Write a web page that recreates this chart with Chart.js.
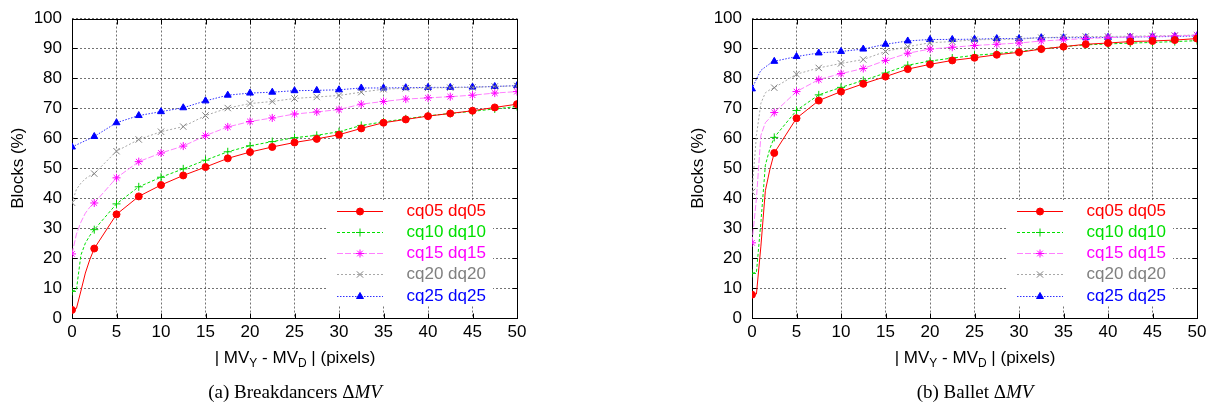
<!DOCTYPE html>
<html>
<head>
<meta charset="utf-8">
<script src="https://cdn.jsdelivr.net/npm/chart.js@4.4.1/dist/chart.umd.min.js"></script>
<style>
  body { margin: 0; background: #fff; width: 1219px; height: 415px; position: relative; overflow: hidden; }
  canvas { position: absolute; top: 0; }
  #bd { left: 0; }
  #bl { left: 680px; }
  .xt { position: absolute; font: 17px "Liberation Sans", Arial, sans-serif; white-space: nowrap; transform: translateX(-50%); }
  .xt sub { font-size: 12px; vertical-align: -4px; line-height: 0; }
  .cap { position: absolute; font: 19px "Liberation Serif", "Times New Roman", serif; white-space: nowrap; transform: translateX(-50%); }
</style>
</head>
<body>
<canvas id="bd" width="540" height="370"></canvas>
<canvas id="bl" width="539" height="370"></canvas>
<div class="xt" style="left:295px; top:348px">| MV<sub>Y</sub> - MV<sub>D</sub> | (pixels)</div>
<div class="xt" style="left:975px; top:348px">| MV<sub>Y</sub> - MV<sub>D</sub> | (pixels)</div>
<div class="cap" style="left:295px; top:381px">(a) Breakdancers Δ<i>MV</i></div>
<div class="cap" style="left:975px; top:381px">(b) Ballet Δ<i>MV</i></div>
<script>
// |MV_Y - MV_D| in pixels (markers only every 2.5)
const mvDiff = [0, 0.5, 1, 1.5, 2, 2.5, 5, 7.5, 10, 12.5, 15, 17.5, 20, 22.5, 25, 27.5, 30, 32.5, 35, 37.5, 40, 42.5, 45, 47.5, 50];
const seriesNames = ['cq05 dq05', 'cq10 dq10', 'cq15 dq15', 'cq20 dq20', 'cq25 dq25'];

// Breakdancers, blocks (%)
const bdCq05 = [2.7, 3.2, 9, 15, 19.5, 23.2, 34.6, 40.6, 44.4, 47.6, 50.4, 53.3, 55.4, 57.1, 58.6, 59.8, 61.2, 63.3, 65.2, 66.3, 67.4, 68.3, 69.2, 70.3, 71.4];
const bdCq10 = [8.9, 9.5, 21, 25, 27.5, 29.5, 38.1, 43.8, 47.0, 49.8, 52.7, 55.5, 57.5, 58.9, 60.2, 61.0, 62.2, 64.3, 65.5, 66.5, 67.5, 68.3, 69.0, 69.8, 70.6];
const bdCq15 = [21.4, 28, 32, 35, 37, 38.4, 46.8, 52.2, 55.1, 57.4, 60.9, 63.8, 65.6, 66.8, 68.1, 68.8, 69.6, 71.4, 72.3, 73.1, 73.5, 73.9, 74.4, 75.1, 75.6];
const bdCq20 = [38.5, 43, 45, 46.5, 47.5, 48.2, 55.7, 59.6, 62.2, 63.9, 67.6, 70.1, 71.6, 72.3, 73.3, 73.8, 74.3, 75.4, 76.4, 76.7, 76.8, 76.9, 77.0, 77.3, 77.5];
const bdCq25 = [57.1, null, null, null, null, 60.6, 65.2, 67.6, 68.9, 70.2, 72.5, 74.4, 75.1, 75.4, 75.9, 76.0, 76.2, 76.8, 76.8, 76.9, 77.0, 77.0, 77.1, 77.3, 77.6];

// Ballet, blocks (%)
const blCq05 = [7.8, 8, 24, 42.5, 49.5, 55.1, 66.7, 72.6, 75.6, 78.2, 80.6, 83.1, 84.7, 86.0, 86.9, 87.9, 88.7, 89.8, 90.6, 91.4, 91.8, 92.3, 92.5, 92.8, 93.3];
const blCq10 = [14.9, 15.3, 32, 51, 56.5, 60.3, 69.3, 74.5, 77.0, 79.3, 81.8, 84.4, 85.8, 86.8, 87.7, 88.3, 89.0, 89.8, 90.6, 91.2, 91.5, 91.8, 92.0, 92.3, 92.6];
const blCq15 = [25.1, 40, 61, 65.2, 66.8, 68.6, 75.6, 79.6, 81.6, 83.3, 86.0, 88.4, 89.8, 90.4, 91.0, 91.4, 91.8, 92.5, 92.9, 93.3, 93.6, 93.8, 94.0, 94.2, 94.4];
const blCq20 = [42.1, 61, 71.7, 75.2, 76.2, 76.9, 81.4, 83.5, 85.0, 86.3, 89.0, 90.6, 91.9, 92.3, 92.9, 93.0, 93.1, 93.6, 93.8, 94.0, 94.0, 94.1, 94.2, 94.3, 94.5];
const blCq25 = [76.5, 79.8, 82.7, 83.8, 84.9, 85.7, 87.3, 88.5, 89.0, 89.8, 91.4, 92.5, 93.0, 93.0, 93.1, 93.3, 93.3, 93.6, 93.6, 93.6, 93.7, 93.8, 93.9, 94.0, 94.2];

const font = { family: '"Liberation Sans", Arial, sans-serif', size: 17 };

const looks = [
  { line: '#ff0000', mark: '#ff0000', text: '#ff0000', dash: [], style: 'circle', r: 3.5 },
  { line: '#00e000', mark: '#00d000', text: '#00e000', dash: [3, 2], style: 'cross', r: 4 },
  { line: '#ff80ff', mark: '#ff00ff', text: '#ff00ff', dash: [6, 2], style: 'star', r: 4 },
  { line: '#a8a8a8', mark: '#808080', text: '#808080', dash: [2, 2], style: 'crossRot', r: 4.5 },
  { line: '#3030ff', mark: '#0000ff', text: '#0000ff', dash: [1.5, 1.5], style: 'triangle', r: 4 }
];

// border + inward tick marks, like gnuplot
const framePlugin = {
  id: 'frame',
  beforeDatasetsDraw(chart) {
    const { ctx, chartArea: a, scales } = chart;
    const l = Math.round(a.left) + 0.5, r = Math.round(a.right) + 0.5;
    const t = Math.round(a.top) + 0.5, b = Math.round(a.bottom) + 0.5;
    ctx.save();
    ctx.strokeStyle = '#000';
    ctx.lineWidth = 1;
    ctx.beginPath();
    scales.x.ticks.forEach(tk => {
      const px = Math.round(scales.x.getPixelForValue(tk.value)) + 0.5;
      ctx.moveTo(px, b); ctx.lineTo(px, b - 5);
      ctx.moveTo(px, t); ctx.lineTo(px, t + 5);
    });
    scales.y.ticks.forEach(tk => {
      const py = Math.round(scales.y.getPixelForValue(tk.value)) + 0.5;
      ctx.moveTo(l, py); ctx.lineTo(l + 5, py);
      ctx.moveTo(r, py); ctx.lineTo(r - 5, py);
    });
    ctx.stroke();
    ctx.strokeRect(l, t, r - l, b - t);
    ctx.restore();
  }
};

// key inside the plot, bottom right, on a plain white box over the grid
const keyPlugin = {
  id: 'key',
  beforeDatasetsDraw(chart) {
    const { ctx, chartArea: a } = chart;
    ctx.save();
    ctx.fillStyle = '#fff';
    ctx.fillRect(Math.round(a.right - 190), Math.round(a.bottom - 118), 166, 106);
    ctx.restore();
  },
  afterDraw(chart) {
    const { ctx, chartArea: a } = chart;
    chart.data.datasets.forEach((ds, i) => {
      const lk = looks[i];
      const y = Math.round(a.bottom - 107.5 + i * 21.25) + 0.5;
      ctx.save();
      ctx.strokeStyle = lk.line;
      ctx.lineWidth = 1;
      ctx.setLineDash(lk.dash);
      ctx.beginPath();
      ctx.moveTo(a.right - 180, y);
      ctx.lineTo(a.right - 134, y);
      ctx.stroke();
      ctx.setLineDash([]);
      ctx.strokeStyle = lk.mark;
      ctx.fillStyle = lk.mark;
      Chart.helpers.drawPoint(ctx, { pointStyle: lk.style, radius: lk.r, borderWidth: 1, rotation: 0 }, a.right - 157, y);
      ctx.fillStyle = lk.text;
      ctx.font = '17px "Liberation Sans", Arial, sans-serif';
      ctx.textBaseline = 'middle';
      ctx.textAlign = 'left';
      ctx.fillText(ds.label, a.right - 110.5, y);
      ctx.restore();
    });
  }
};

function makeChart(id, series, width) {
  const datasets = series.map((vals, i) => {
    const lk = looks[i];
    return {
      label: seriesNames[i],
      data: vals.map((v, k) => ({ x: mvDiff[k], y: v })),
      borderColor: lk.line,
      borderWidth: 1,
      borderDash: lk.dash,
      pointStyle: lk.style,
      pointBorderColor: lk.mark,
      pointBackgroundColor: lk.mark,
      pointBorderWidth: 1,
      pointRadius: ctx => (mvDiff[ctx.dataIndex] % 2.5 === 0 ? lk.r : 0),
      tension: 0,
      spanGaps: true
    };
  });
  return new Chart(document.getElementById(id), {
    type: 'line',
    data: { datasets },
    options: {
      responsive: false,
      animation: false,
      layout: { padding: { left: 0, right: width - 517, top: 10, bottom: 0 } },
      plugins: { legend: { display: false }, tooltip: { enabled: false } },
      scales: {
        x: {
          type: 'linear', min: 0, max: 50,
          ticks: { stepSize: 5, padding: 6, color: '#000', font: { ...font, lineHeight: 1 }, maxRotation: 0 },
          grid: { color: 'rgba(0,0,0,0.55)', drawTicks: false },
          border: { display: false, dash: [2, 2] },
          afterFit(scale) { scale.height = 52; }
        },
        y: {
          min: 0, max: 100,
          ticks: { stepSize: 10, padding: 10, color: '#000', font: { ...font, lineHeight: 1 } },
          grid: { color: 'rgba(0,0,0,0.55)', drawTicks: false },
          border: { display: false, dash: [2, 2] },
          title: { display: true, text: 'Blocks (%)', color: '#000', font, padding: { top: 8, bottom: 0 } },
          afterFit(scale) { scale.width = 72; }
        }
      }
    },
    plugins: [framePlugin, keyPlugin]
  });
}

makeChart('bd', [bdCq05, bdCq10, bdCq15, bdCq20, bdCq25], 540);
makeChart('bl', [blCq05, blCq10, blCq15, blCq20, blCq25], 539);
</script>
</body>
</html>
